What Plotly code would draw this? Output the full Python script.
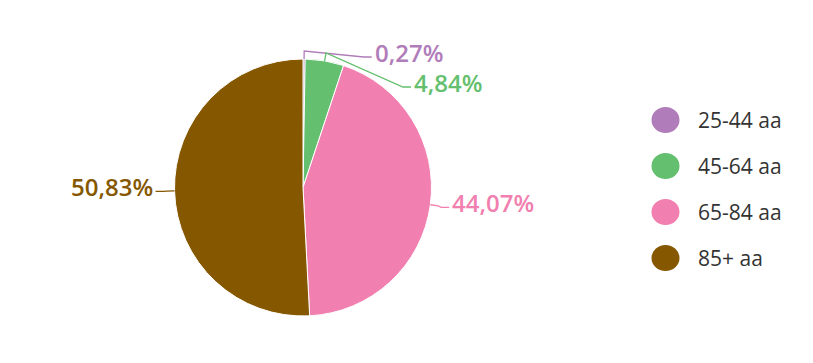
import math
import plotly.graph_objects as go

# ---- data ----
categories = ["25-44 aa", "45-64 aa", "65-84 aa", "85+ aa"]
values = [0.27, 4.84, 44.07, 50.83]
label_texts = ["0,27%", "4,84%", "44,07%", "50,83%"]
colors = ["#b07cb9", "#64bf6e", "#f17fb0", "#855800"]

W, H = 813, 363
CX, CY, R = 303.0, 187.5, 128.5
LABEL_R = R + 19
BREAK = 8
TOP_MIN = 57
MIN_GAP = 30
TEXT_DY = -5


def px(x):
    return x / W


def py(y):
    return 1 - y / H


fig = go.Figure()
fig.add_trace(go.Pie(
    labels=categories, values=values, sort=False, direction="clockwise",
    rotation=0, textinfo="none", hoverinfo="label+percent", showlegend=False,
    marker=dict(colors=colors, line=dict(color="#ffffff", width=1)),
    domain=dict(x=[px(CX - R), px(CX + R)], y=[py(CY + R), py(CY - R)]),
))

# ---- data labels with connectors (positions derived from the values) ----
total = sum(values)
cum = 0.0
right, left = [], []
for i, v in enumerate(values):
    mid = (cum + v / 2) / total * 2 * math.pi
    cum += v
    (right if mid < math.pi else left).append((i, mid))

shapes, annotations = [], []


def place(items, side):
    prev = -1e9
    for i, mid in items:
        ny = CY - LABEL_R * math.cos(mid)
        if side == "right":
            y = max(ny, prev + MIN_GAP, TOP_MIN)
            prev = y
        else:
            y = ny
        dy = y - CY
        dx = math.sqrt(max(LABEL_R ** 2 - dy ** 2, 0))
        x = CX + dx if side == "right" else CX - dx
        tx, ty = CX + R * math.sin(mid), CY - R * math.cos(mid)
        bx, by = CX + (R + BREAK) * math.sin(mid), CY - (R + BREAK) * math.cos(mid)
        sgn = 1 if side == "right" else -1
        kx = x - sgn * 8
        path = (f"M {px(tx)},{py(ty)} L {px(bx)},{py(by)} "
                f"L {px(kx)},{py(y)} L {px(x)},{py(y)}")
        shapes.append(dict(type="path", xref="paper", yref="paper", path=path,
                           line=dict(color=colors[i], width=1.3)))
        annotations.append(dict(
            x=px(x + sgn * 1), y=py(y + TEXT_DY), xref="paper", yref="paper",
            text=label_texts[i], showarrow=False,
            xanchor="left" if side == "right" else "right", yanchor="middle",
            font=dict(family="Open Sans", size=24, color=colors[i], weight=600),
        ))


place(right, "right")
place(sorted(left, key=lambda t: -t[1]), "left")

# ---- legend drawn manually (large circle markers) ----
LEG_X, LEG_Y0, LEG_DY, LEG_RAD = 665.5, 120, 46, 14
for i, cat in enumerate(categories):
    ly = LEG_Y0 + LEG_DY * i
    shapes.append(dict(type="circle", xref="paper", yref="paper",
                       x0=px(LEG_X - LEG_RAD), x1=px(LEG_X + LEG_RAD),
                       y0=py(ly + LEG_RAD - 1), y1=py(ly - LEG_RAD + 1),
                       fillcolor=colors[i], line=dict(width=0)))
    annotations.append(dict(
        x=px(696), y=py(ly), xref="paper", yref="paper", text=cat,
        showarrow=False, xanchor="left", yanchor="middle",
        font=dict(family="Open Sans", size=21, color="#333333"),
    ))

fig.update_layout(
    width=W, height=H, margin=dict(l=0, r=0, t=0, b=0),
    paper_bgcolor="#ffffff", plot_bgcolor="#ffffff",
    shapes=shapes, annotations=annotations, showlegend=False,
)

fig.write_html("out.html")
